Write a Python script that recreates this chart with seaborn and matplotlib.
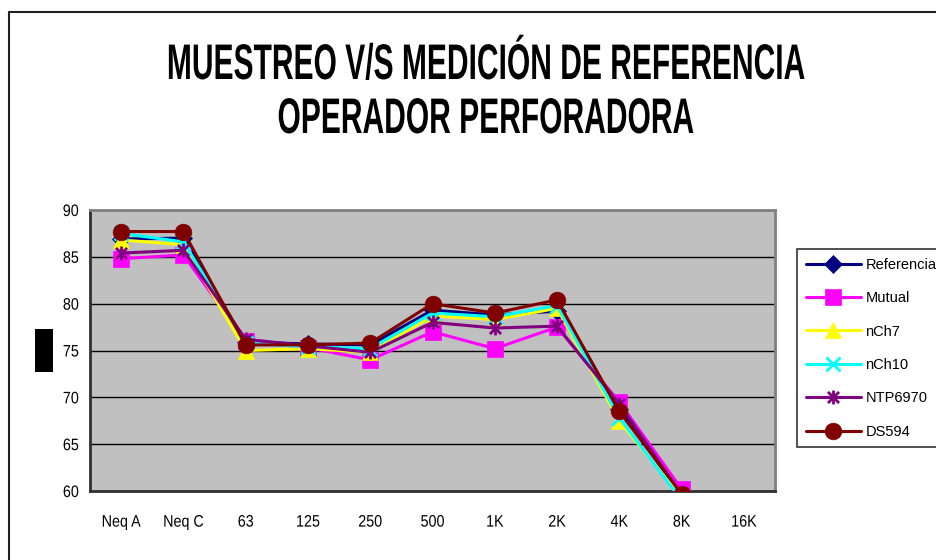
import numpy as np
import pandas as pd
import matplotlib
matplotlib.use("Agg")
import matplotlib.pyplot as plt
from matplotlib.path import Path
from matplotlib.patches import Rectangle
from matplotlib.lines import Line2D
from matplotlib.patheffects import AbstractPathEffect
from matplotlib.transforms import Affine2D
import seaborn as sns

# Frequency bands on the x axis
categories = ["Neq A", "Neq C", "63", "125", "250", "500", "1K", "2K", "4K", "8K", "16K"]

# Measured levels per instrument (dB)
referencia = [86.9, 87.0, 75.9, 75.7, 75.6, 79.3, 78.8, 79.2, 68.8, 59.5, np.nan]
mutual     = [84.8, 85.2, 76.0, 75.3, 74.0, 77.0, 75.2, 77.5, 69.5, 60.2, np.nan]
nch7       = [86.8, 86.3, 75.0, 75.2, 74.8, 78.7, 78.3, 79.5, 67.5, 59.3, np.nan]
nch10      = [87.5, 86.6, 75.8, 75.4, 75.2, 79.0, 78.6, 79.8, 67.8, 59.0, np.nan]
ntp6970    = [85.4, 85.7, 76.2, 75.5, 74.8, 78.0, 77.4, 77.6, 69.3, 59.6, np.nan]
ds594      = [87.7, 87.7, 75.6, 75.6, 75.8, 80.0, 79.0, 80.4, 68.5, 59.7, np.nan]

series_names = ["Referencia", "Mutual", "nCh7", "nCh10", "NTP6970", "DS594"]
series_values = [referencia, mutual, nch7, nch10, ntp6970, ds594]

title_lines = ["MUESTREO V/S MEDICIÓN DE REFERENCIA", "OPERADOR PERFORADORA"]

sns.set_style("white")
plt.rcParams["font.family"] = ["Liberation Sans", "DejaVu Sans"]
plt.rcParams["text.color"] = "black"
plt.rcParams["xtick.color"] = "black"
plt.rcParams["ytick.color"] = "black"


class Squeeze(AbstractPathEffect):
    """Redraw glyphs scaled about an anchor (condensed / tall lettering)."""

    def __init__(self, sx, sy=1.0, anchor="center"):
        super().__init__()
        self.sx = sx
        self.sy = sy
        self.anchor = anchor

    def draw_path(self, renderer, gc, tpath, affine, rgbFace=None):
        ext = tpath.get_extents()
        if self.anchor == "center":
            cx = 0.5 * (ext.x0 + ext.x1)
        elif self.anchor == "right":
            cx = ext.x1
        else:
            cx = ext.x0
        # glyph coordinates have the baseline at y = 0
        squeeze = Affine2D().translate(-cx, 0).scale(self.sx, self.sy).translate(cx, 0)
        renderer.draw_path(gc, tpath, squeeze + affine, rgbFace)


# Asterisk marker: an X crossed by a vertical bar
star = Path(
    [(-1, -1), (1, 1), (-1, 1), (1, -1), (0, -1.25), (0, 1.25)],
    [Path.MOVETO, Path.LINETO, Path.MOVETO, Path.LINETO, Path.MOVETO, Path.LINETO],
)

styles = {
    "Referencia": dict(color="#000080", marker="D", ms=9),
    "Mutual":     dict(color="#FF00FF", marker="s", ms=11),
    "nCh7":       dict(color="#FFFF00", marker="^", ms=11),
    "nCh10":      dict(color="#00FFFF", marker="x", ms=10),
    "NTP6970":    dict(color="#800080", marker=star, ms=10),
    "DS594":      dict(color="#800000", marker="o", ms=12),
}

fig = plt.figure(figsize=(9.36, 5.6), dpi=100)
W, H = 936.0, 560.0
ax = fig.add_axes([90 / W, 1 - 491 / H, (775 - 90) / W, (491 - 210) / H])
ax.set_facecolor("#C0C0C0")

xpos = np.arange(len(categories))
frames = []
for name, vals in zip(series_names, series_values):
    frames.append(pd.DataFrame({"pos": xpos, "nivel": vals, "equipo": name}))
df = pd.concat(frames, ignore_index=True)

for name in series_names:
    st = styles[name]
    sub = df[df["equipo"] == name]
    open_marker = name in ("nCh10", "NTP6970")
    sns.lineplot(
        data=sub, x="pos", y="nivel", ax=ax, sort=False,
        color=st["color"], marker=st["marker"], markersize=st["ms"],
        markeredgecolor=st["color"], markerfacecolor=st["color"],
        markeredgewidth=2.0 if open_marker else 0.5,
        linewidth=2.2, label=name, zorder=3,
    )

ax.set_xlim(-0.5, len(categories) - 0.5)
ax.set_ylim(60, 90)
ax.set_yticks(np.arange(60, 91, 5))
ax.set_xticks(xpos)
ax.set_xticklabels(categories)
ax.set_xticks(np.arange(-0.5, len(categories), 1.0), minor=True)
ax.tick_params(axis="x", which="major", length=0, pad=17, labelsize=12)
ax.tick_params(axis="x", which="minor", length=5, width=1, color="#202020", direction="out")
ax.tick_params(axis="y", which="major", length=5, width=1, color="#202020",
               direction="out", labelsize=12, pad=3)
ax.set_xlabel("")
ax.set_ylabel("")
ax.grid(False)
ax.yaxis.grid(True, color="black", linewidth=1.0)
ax.set_axisbelow(True)

for lbl in ax.get_xticklabels():
    lbl.set_path_effects([Squeeze(0.86, 1.0, "center")])
for lbl in ax.get_yticklabels():
    lbl.set_path_effects([Squeeze(0.86, 1.0, "right")])

for side in ("top", "right"):
    ax.spines[side].set_color("#808080")
    ax.spines[side].set_linewidth(2)
for side in ("left", "bottom"):
    ax.spines[side].set_color("#303030")
    ax.spines[side].set_linewidth(2)

handles, labels = ax.get_legend_handles_labels()
if ax.get_legend() is not None:
    ax.get_legend().remove()
leg = fig.legend(
    handles, labels, loc="upper left",
    bbox_to_anchor=(797 / W, 1 - 249 / H),
    frameon=True, fancybox=False, fontsize=10.5,
    handlelength=3.8, handletextpad=0.3, labelspacing=1.33,
    borderpad=0.6, borderaxespad=0,
)
leg.get_frame().set_edgecolor("black")
leg.get_frame().set_linewidth(1.2)

# Title, two centred lines in tall condensed bold lettering
for txt, base in zip(title_lines, (79, 133)):
    t = fig.text(485 / W, 1 - base / H, txt, ha="center", va="baseline",
                 fontsize=30, fontweight="bold")
    t.set_path_effects([Squeeze(0.72, 1.2, "center")])

# Black block left of the value axis
fig.patches.append(Rectangle((35 / W, 1 - 372 / H), 18 / W, 43 / H,
                             transform=fig.transFigure, facecolor="black",
                             edgecolor="none"))

# Chart frame (left and top edges)
fig.lines.append(Line2D([8.5 / W, 8.5 / W], [0, 1 - 11.5 / H],
                        transform=fig.transFigure, color="#202020", lw=1.5))
fig.lines.append(Line2D([8.5 / W, 1], [1 - 11.5 / H, 1 - 11.5 / H],
                        transform=fig.transFigure, color="#202020", lw=1.5))

fig.savefig("out.png", dpi=100)
